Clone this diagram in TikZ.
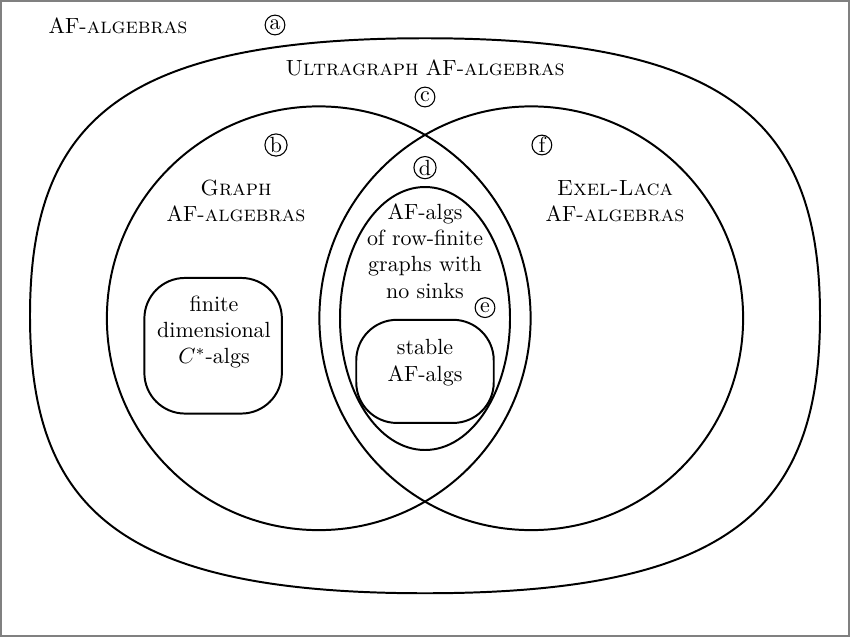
\documentclass[tikz,border=0pt]{standalone}
\usepackage{amsmath}
\usepackage{amssymb}
\usepackage{tikz}
\usetikzlibrary{shapes}

\tikzset{
  venn/.style = {line width=0.9pt},
  tag/.style = {draw, circle, line width=0.5pt, inner sep=0.4pt, minimum size=9pt},
  lbl/.style = {align=center, inner sep=0pt}
}

\begin{document}
\begin{tikzpicture}
\useasboundingbox (0,0) rectangle (13.6,10.192);
\draw[gray, line width=0.7pt] (0.012,0.012) rectangle (13.588,10.18);

\begin{scope}[shift={(6.8,5.14)}]
\draw[venn] (-6.32,0) .. controls (-6.32,3.11) and (-4.86,4.44) .. (0,4.44)
  .. controls (4.86,4.44) and (6.32,3.11) .. (6.32,0)
  .. controls (6.32,-3.11) and (4.86,-4.44) .. (0,-4.44)
  .. controls (-4.86,-4.44) and (-6.32,-3.11) .. cycle;
\end{scope}

\draw[venn] (5.1,5.1) circle (3.39);
\draw[venn] (8.5,5.1) circle (3.39);
\draw[venn] (6.8,5.096) ellipse (1.36 and 2.104);

\node[venn, draw, rounded corners=0.65cm, minimum width=2.2cm, minimum height=2.17cm] (finbox) at (3.41,4.66) {};
\node[venn, draw, rounded corners=0.65cm, minimum width=2.2cm, minimum height=1.65cm] (stabbox) at (6.8,4.25) {};

\node[lbl] (af) at (1.888,9.776) {AF-\textsc{algebras}};
\node[tag] (a) at (4.4,9.792) {a};
\node[lbl] (ultra) at (6.8,9.104) {\textsc{Ultragraph} AF-\textsc{algebras}};
\node[tag] (c) at (6.8,8.64) {c};
\node[tag] (b) at (4.416,7.872) {b};
\node[tag] (f) at (8.67,7.872) {f};
\node[tag] (d) at (6.8,7.51) {d};
\node[tag] (e) at (7.76,5.27) {e};

\node[lbl] (graph) at (3.776,6.976) {\textsc{Graph}\\AF-\textsc{algebras}};
\node[lbl] (exel) at (9.84,6.976) {\textsc{Exel-Laca}\\AF-\textsc{algebras}};
\node[lbl] (rowfin) at (6.8,6.176) {AF-algs\\of row-finite\\graphs with\\no sinks};
\node[lbl] (stable) at (6.8,4.392) {stable\\AF-algs};
\node[lbl] (findim) at (3.424,4.88) {finite\\dimensional\\$C^*$-algs};

\end{tikzpicture}
\end{document}
